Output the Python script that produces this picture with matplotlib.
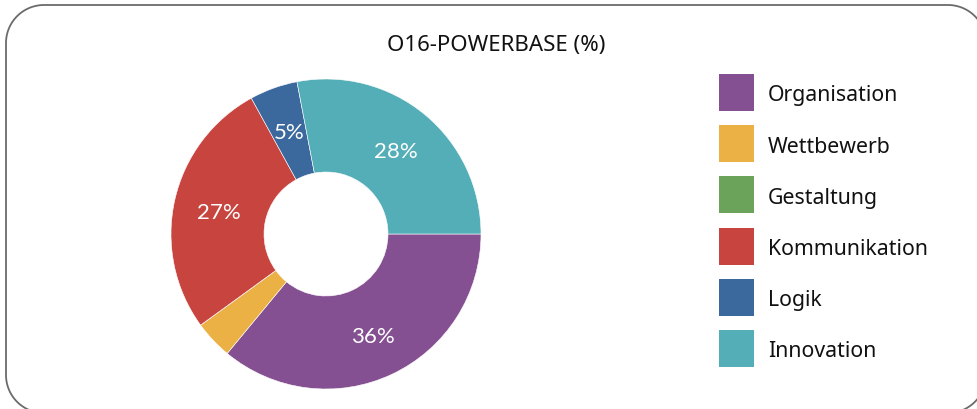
import numpy as np
import matplotlib
matplotlib.use("Agg")
import matplotlib.pyplot as plt
from matplotlib.patches import Polygon, Rectangle

# data
labels = ["Organisation", "Wettbewerb", "Gestaltung", "Kommunikation", "Logik", "Innovation"]
values = [36, 4, 0, 27, 5, 28]
colors = ["#855091", "#EBB145", "#6BA35A", "#C8443F", "#3C699D", "#54AEB7"]
title = "O16-POWERBASE (%)"

plt.rcParams['font.family'] = ['Noto Sans', 'DejaVu Sans']

W, H = 977, 410
fig = plt.figure(figsize=(W / 100, H / 100), dpi=100)

# full-figure overlay axes in pixel units (y down) for frame, title, legend
bg = fig.add_axes([0, 0, 1, 1])
bg.set_xlim(0, W)
bg.set_ylim(H, 0)
bg.axis("off")

# rounded frame, runs off the right and bottom edge
x0, y0, x1, y1, r = 6, 6, 986, 414, 38
def arc(cx, cy, a0, a1):
    a = np.radians(np.linspace(a0, a1, 30))
    return np.c_[cx + r * np.cos(a), cy + r * np.sin(a)]
pts = np.vstack([arc(x0 + r, y0 + r, 180, 270), arc(x1 - r, y0 + r, 270, 360),
                 arc(x1 - r, y1 - r, 0, 90), arc(x0 + r, y1 - r, 90, 180)])
bg.add_patch(Polygon(pts, closed=True, fill=False, edgecolor="#6b6b6b", linewidth=1.3))

# pie axes: centre at (326,235) px, radius 155 px
ax = fig.add_axes([171 / W, 20 / H, 310 / W, 310 / H])

def pct(p):
    return "%.0f%%" % p if p >= 4.5 else ""

wedges, texts, autotexts = ax.pie(values, colors=colors, startangle=0, counterclock=False,
                                  radius=1.0, autopct=pct, pctdistance=0.71,
                                  wedgeprops=dict(width=0.6, edgecolor="white", linewidth=0.4),
                                  textprops=dict(color="white", fontsize=16, family="Lato"))
for t in autotexts:
    t.set_va("center_baseline")
ax.set_xlim(-1, 1)
ax.set_ylim(-1, 1)
ax.set_aspect("equal")
ax.axis("off")

bg.text(496, 51.5, title, ha="center", va="baseline", fontsize=16, color="#111111")

# legend: square swatches with labels, one row every 51.2 px
for i, (lab, col) in enumerate(zip(labels, colors)):
    yc = 93.5 + i * 51.2
    bg.add_patch(Rectangle((719, yc - 18.5), 35, 37, facecolor=col, edgecolor="none"))
    bg.text(768, yc + 8, lab, ha="left", va="baseline", fontsize=15.3, color="#111111")

fig.savefig("out.png", dpi=100)
